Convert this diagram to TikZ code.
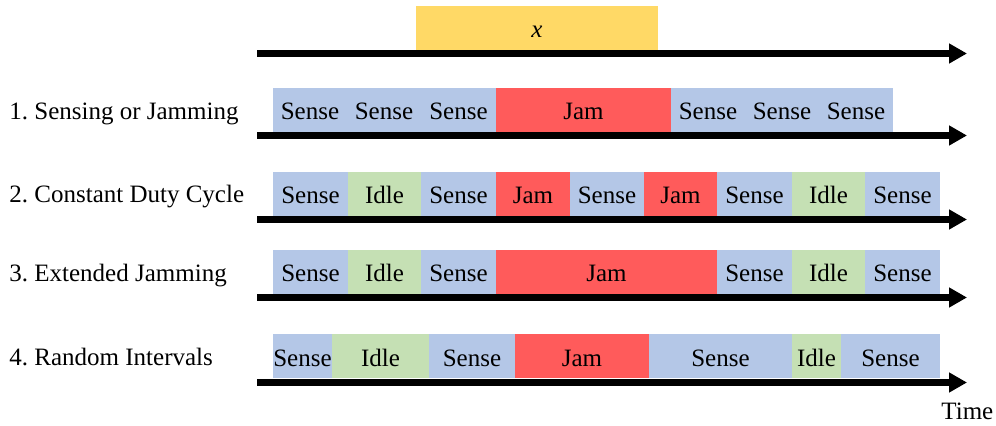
\documentclass[tikz,border=0pt]{standalone}
\usepackage{fontspec}
\setmainfont{Liberation Serif}
\frenchspacing
\usetikzlibrary{arrows.meta}
\definecolor{senseblue}{HTML}{B4C7E7}
\definecolor{idlegreen}{HTML}{C5E0B4}
\definecolor{jamred}{HTML}{FF5B5B}
\definecolor{winyellow}{HTML}{FFD966}
\tikzset{
  slot/.style={inner sep=0pt, outer sep=0pt, minimum height=22pt,
    text height=10pt, text depth=0pt},
  sense/.style={slot, fill=senseblue},
  idle/.style={slot, fill=idlegreen},
  jam/.style={slot, fill=jamred},
  axis/.style={line width=3.25pt, -{Triangle[length=9pt,width=9.5pt]}},
  rowlabel/.style={anchor=base west, inner sep=0pt},
}

\begin{document}
\begin{tikzpicture}[x=0.5pt, y=-0.5pt, font=\fontsize{12.5}{15}\selectfont]
  \useasboundingbox (0,0) rectangle (996,426);

  % window on top
  \node[slot, fill=winyellow, minimum width=120.65pt] (win) at (537,28) {\textit{x}};
  \coordinate (t0) at (257,53.5);
  \coordinate (t1) at (967,53.5);
  \draw[axis] (t0) -- (t1);

  % 1. sensing or jamming
  \node[rowlabel] (lab1) at (9,120) {1. Sensing or Jamming};
  \foreach [count=\i] \xa/\xb/\kind/\txt in {273/347/sense/Sense, 347/421/sense/Sense,
      421/496/sense/Sense, 496/671/jam/Jam, 671/745/sense/Sense, 745/819/sense/Sense,
      819/893/sense/Sense}
    \node[\kind, minimum width={(\xb-\xa)*0.5pt+0.3pt}] (a\i) at ({(\xa+\xb)/2},110) {\txt};
  \coordinate (a0) at (257,135.5);
  \coordinate (a9) at (967,135.5);
  \draw[axis] (a0) -- (a9);

  % 2. constant duty cycle
  \node[rowlabel] (lab2) at (9,203) {2. Constant Duty Cycle};
  \foreach [count=\i] \xa/\xb/\kind/\txt in {273/348/sense/Sense, 348/421/idle/Idle,
      421/496/sense/Sense, 496/570/jam/Jam, 570/644/sense/Sense, 644/717/jam/Jam,
      717/792/sense/Sense, 792/865/idle/Idle, 865/940/sense/Sense}
    \node[\kind, minimum width={(\xb-\xa)*0.5pt+0.3pt}] (b\i) at ({(\xa+\xb)/2},194) {\txt};
  \coordinate (b0) at (257,219.5);
  \coordinate (b10) at (967,219.5);
  \draw[axis] (b0) -- (b10);

  % 3. extended jamming
  \node[rowlabel] (lab3) at (9,282) {3. Extended Jamming};
  \foreach [count=\i] \xa/\xb/\kind/\txt in {273/348/sense/Sense, 348/421/idle/Idle,
      421/496/sense/Sense, 496/717/jam/Jam, 717/792/sense/Sense, 792/865/idle/Idle,
      865/940/sense/Sense}
    \node[\kind, minimum width={(\xb-\xa)*0.5pt+0.3pt}] (c\i) at ({(\xa+\xb)/2},272) {\txt};
  \coordinate (c0) at (257,297.5);
  \coordinate (c9) at (967,297.5);
  \draw[axis] (c0) -- (c9);

  % 4. random intervals
  \node[rowlabel] (lab4) at (9,366) {4. Random Intervals};
  \foreach [count=\i] \xa/\xb/\kind/\txt in {273/332/sense/Sense, 332/429/idle/Idle,
      429/515/sense/Sense, 515/649/jam/Jam, 649/792/sense/Sense, 792/841/idle/Idle,
      841/940/sense/Sense}
    \node[\kind, minimum width={(\xb-\xa)*0.5pt+0.3pt}] (d\i) at ({(\xa+\xb)/2},356.5) {\txt};
  \coordinate (d0) at (257,382.5);
  \coordinate (d9) at (967,382.5);
  \draw[axis] (d0) -- (d9);

  \node[rowlabel] (time) at (941,420) {Time};
\end{tikzpicture}
\end{document}
